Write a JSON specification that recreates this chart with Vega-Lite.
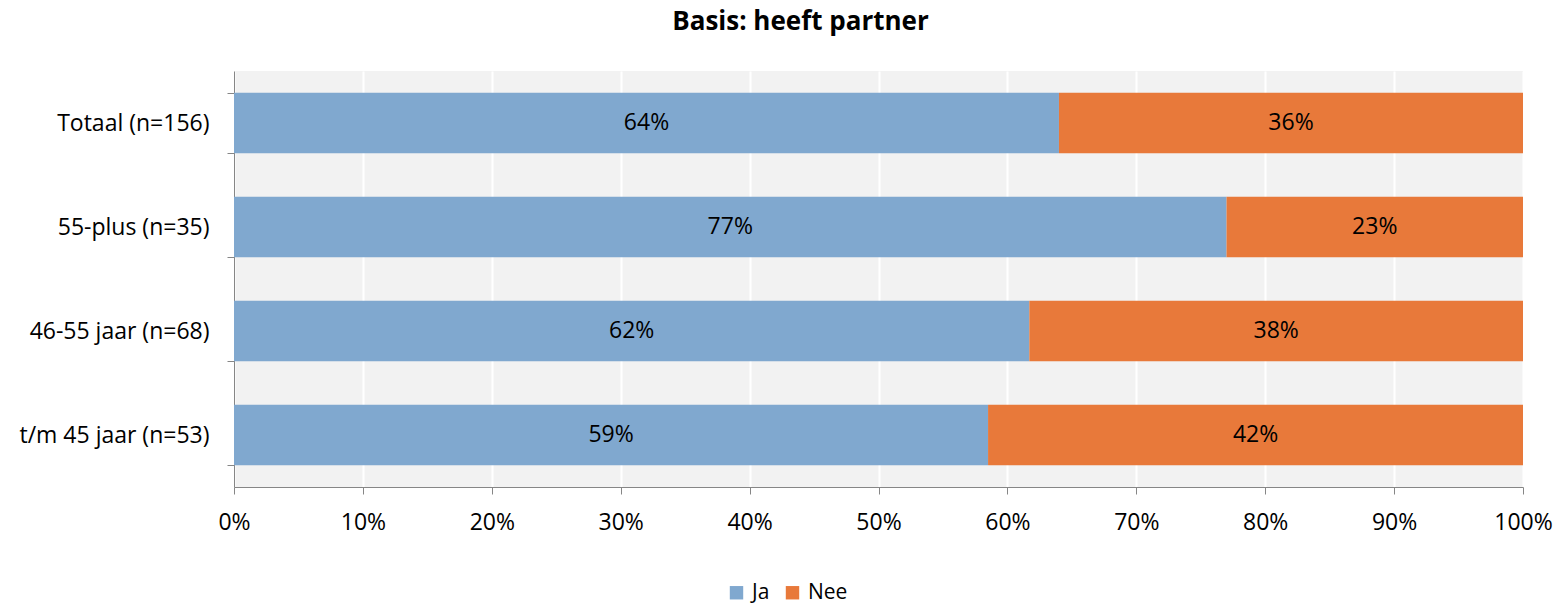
{
  "$schema": "https://vega.github.io/schema/vega-lite/v6.json",
  "width": 1289,
  "height": 416,
  "autosize": {"type": "none"},
  "padding": {"left": 234, "top": 71, "right": 41, "bottom": 119},
  "background": "white",
  "config": {
    "font": "Open Sans",
    "view": {"fill": "#F2F2F2", "stroke": null}
  },
  "title": {
    "text": "Basis: heeft partner",
    "fontSize": 26,
    "fontWeight": "bold",
    "font": "Open Sans",
    "color": "black",
    "anchor": "middle",
    "dx": -78,
    "offset": 25
  },
  "data": {
    "values": [
      {"group": "Totaal (n=156)", "answer": "Ja", "value": 0.64, "label": "64%"},
      {"group": "Totaal (n=156)", "answer": "Nee", "value": 0.36, "label": "36%"},
      {"group": "55-plus (n=35)", "answer": "Ja", "value": 0.77, "label": "77%"},
      {"group": "55-plus (n=35)", "answer": "Nee", "value": 0.23, "label": "23%"},
      {"group": "46-55 jaar (n=68)", "answer": "Ja", "value": 0.617, "label": "62%"},
      {"group": "46-55 jaar (n=68)", "answer": "Nee", "value": 0.383, "label": "38%"},
      {"group": "t/m 45 jaar (n=53)", "answer": "Ja", "value": 0.585, "label": "59%"},
      {"group": "t/m 45 jaar (n=53)", "answer": "Nee", "value": 0.415, "label": "42%"}
    ]
  },
  "transform": [
    {"stack": "value", "groupby": ["group"], "sort": [{"field": "answer", "order": "ascending"}], "as": ["v0", "v1"]},
    {"calculate": "(datum.v0 + datum.v1) / 2", "as": "mid"}
  ],
  "encoding": {
    "y": {
      "field": "group",
      "type": "nominal",
      "sort": ["Totaal (n=156)", "55-plus (n=35)", "46-55 jaar (n=68)", "t/m 45 jaar (n=53)"],
      "scale": {"paddingInner": 0.42, "paddingOuter": 0.21},
      "axis": {
        "title": null,
        "tickBand": "extent",
        "domainColor": "#868686",
        "tickColor": "#868686",
        "tickSize": 7,
        "labelFontSize": 23,
        "labelLimit": 400,
        "labelColor": "black",
        "labelPadding": 18,
        "grid": false
      }
    }
  },
  "layer": [
    {
      "mark": {"type": "bar", "stroke": null},
      "encoding": {
        "x": {
          "field": "v0",
          "type": "quantitative",
          "scale": {"domain": [0, 1]},
          "axis": {
            "title": null,
            "format": ".0%",
            "values": [0, 0.1, 0.2, 0.3, 0.4, 0.5, 0.6, 0.7, 0.8, 0.9, 1],
            "labelFlush": false,
            "grid": true,
            "gridColor": "white",
            "gridWidth": 2,
            "domainColor": "#868686",
            "tickColor": "#868686",
            "tickSize": 7,
            "labelFontSize": 23,
            "labelColor": "black",
            "labelPadding": 17
          }
        },
        "x2": {"field": "v1"},
        "color": {
          "field": "answer",
          "type": "nominal",
          "scale": {"domain": ["Ja", "Nee"], "range": ["#80A8CF", "#E8793A"]},
          "legend": {
            "title": null,
            "orient": "none",
            "legendX": 492,
            "legendY": 511,
            "direction": "horizontal",
            "symbolType": "square",
            "symbolSize": 180,
            "symbolStrokeWidth": 0,
            "labelFontSize": 21,
            "labelColor": "black",
            "columnPadding": 12,
            "labelOffset": 5
          }
        }
      }
    },
    {
      "mark": {"type": "text", "fontSize": 23, "color": "black", "align": "center", "baseline": "middle"},
      "encoding": {
        "x": {"field": "mid", "type": "quantitative"},
        "text": {"field": "label"}
      }
    }
  ]
}
